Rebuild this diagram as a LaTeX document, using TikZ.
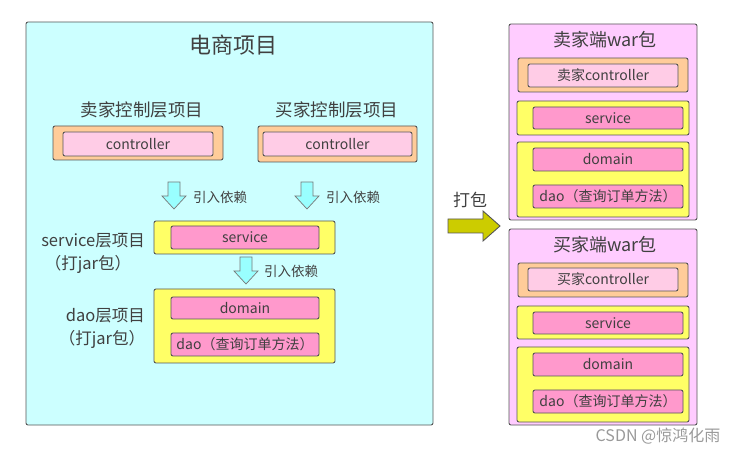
\documentclass[tikz,border=0pt]{standalone}
\usepackage{fontspec}
\setmainfont{Noto Sans CJK SC}
\usepackage{tikz}

\definecolor{bgcyan}{HTML}{CCFFFF}
\definecolor{peach}{HTML}{FFCC99}
\definecolor{lightpink}{HTML}{FFCCE6}
\definecolor{hotpink}{HTML}{FF99CC}
\definecolor{lemon}{HTML}{FFFF66}
\definecolor{lilac}{HTML}{FFCCFF}
\definecolor{olivegreen}{HTML}{CCCC00}
\definecolor{arrcyan}{HTML}{99FFFF}
\definecolor{framegray}{HTML}{555555}
\definecolor{txtgray}{HTML}{404040}

\newcommand{\fsz}[1]{\fontsize{#1pt}{#1pt}\selectfont}

\tikzset{
	blk/.style={draw=framegray,line width=0.9pt,rounded corners=2pt,inner sep=0pt,text=txtgray},
	outerbox/.style={blk,minimum width=172pt},
	innerbox/.style={blk,minimum width=150pt,font=\fsz{14}},
	lbl/.style={text=txtgray,inner sep=0pt},
	downarr/.pic={
		\draw[draw=framegray!80,fill=arrcyan,line width=0.7pt]
			(-6,0) -- (6,0) -- (6,14) -- (12,14) -- (0,27) -- (-12,14) -- (-6,14) -- cycle;
	}
}

\begin{document}
\begin{tikzpicture}[x=1pt,y=-1pt]
		\useasboundingbox (0,0) rectangle (742,454);

		%------------------------------------------------------
		\node[blk,fill=bgcyan,minimum width=407pt,minimum height=403pt] (shop) at (229.5,223.5) {};
		\node[lbl,font=\fsz{22}] (shoptitle) at (233,45) {电商项目};
		%------------------------------------------------------


		%------------------------------------------------------
		\node[lbl,font=\fsz{17.5}] (sellerlbl) at (142,110) {卖家控制层项目};
		\node[blk,fill=peach,minimum width=170pt,minimum height=34pt] (sellerctl) at (138,143) {};
		\node[innerbox,fill=lightpink,minimum height=24pt] (sellerin) at (138,144) {controller};

		\node[lbl,font=\fsz{17.5}] (buyerlbl) at (337,110) {买家控制层项目};
		\node[blk,fill=peach,minimum width=159pt,minimum height=36pt] (buyerctl) at (337.5,144) {};
		\node[innerbox,fill=lightpink,minimum width=149pt,minimum height=24pt] (buyerin) at (337.5,144) {controller};
		%------------------------------------------------------


		%------------------------------------------------------
		\coordinate (dep1) at (174,182);
		\coordinate (dep2) at (307,182);
		\pic at (dep1) {downarr};
		\pic at (dep2) {downarr};
		\node[lbl,font=\fsz{13.5},anchor=west] (dep1lbl) at (193,197) {引入依赖};
		\node[lbl,font=\fsz{13.5},anchor=west] (dep2lbl) at (326,197) {引入依赖};
		%------------------------------------------------------


		%------------------------------------------------------
		\node[blk,fill=lemon,minimum width=181pt,minimum height=33pt] (svc) at (244.5,237.5) {};
		\node[innerbox,fill=hotpink,minimum width=148pt,minimum height=23pt] (svcin) at (245,237.5) {service};
		\node[lbl,font=\fsz{16.5},anchor=east] (svclbl) at (145,241) {service层项目};
		\node[lbl,font=\fsz{16.5}] (svcjar) at (88,264) {（打jar包）};

		\coordinate (dep3) at (246,257);
		\pic at (dep3) {downarr};
		\node[lbl,font=\fsz{13.5},anchor=west] (dep3lbl) at (264,271) {引入依赖};
		%------------------------------------------------------


		%------------------------------------------------------
		\node[blk,fill=lemon,minimum width=181pt,minimum height=74pt] (dao) at (244.5,326) {};
		\node[innerbox,fill=hotpink,minimum width=148pt,minimum height=22pt] (domainin) at (245,308) {domain};
		\node[innerbox,fill=hotpink,minimum width=148pt,minimum height=23pt] (daoin) at (245,344.5) {dao（查询订单方法）};
		\node[lbl,font=\fsz{16.5},anchor=east] (daolbl) at (145,316) {dao层项目};
		\node[lbl,font=\fsz{16.5}] (daojar) at (102,339) {（打jar包）};
		%------------------------------------------------------


		%------------------------------------------------------
		\node[lbl,font=\fsz{17}] (packlbl) at (470,200) {打包};
		\draw[draw=framegray,fill=olivegreen,line width=0.9pt]
			(448,219) -- (483,219) -- (483,211) -- (500,226) -- (483,241) -- (483,233) -- (448,233) -- cycle;
		%------------------------------------------------------


		%------------------------------------------------------
		\node[blk,fill=lilac,minimum width=188pt,minimum height=196pt] (sellerwar) at (603,122) {};
		\node[lbl,font=\fsz{18}] (sellerwarlbl) at (605,40) {卖家端war包};
		\node[blk,fill=peach,minimum width=170pt,minimum height=34pt] (swctl) at (603,75) {};
		\node[innerbox,fill=lightpink,minimum height=23pt] (swctlin) at (603,75.5) {卖家controller};
		\node[outerbox,fill=lemon,minimum height=34pt] (swsvc) at (603,118) {};
		\node[innerbox,fill=hotpink,minimum height=22pt] (swsvcin) at (608,118) {service};
		\node[outerbox,fill=lemon,minimum height=75pt] (swdao) at (603,179.5) {};
		\node[innerbox,fill=hotpink,minimum height=23pt] (swdomain) at (608,159.5) {domain};
		\node[innerbox,fill=hotpink,minimum height=23pt] (swdaoin) at (608,196.5) {dao（查询订单方法）};
		%------------------------------------------------------


		%------------------------------------------------------
		\node[blk,fill=lilac,minimum width=188pt,minimum height=196pt] (buyerwar) at (603,327) {};
		\node[lbl,font=\fsz{18}] (buyerwarlbl) at (605,245) {买家端war包};
		\node[blk,fill=peach,minimum width=170pt,minimum height=34pt] (bwctl) at (603,280) {};
		\node[innerbox,fill=lightpink,minimum height=23pt] (bwctlin) at (603,279.5) {买家controller};
		\node[outerbox,fill=lemon,minimum height=33pt] (bwsvc) at (603,322.5) {};
		\node[innerbox,fill=hotpink,minimum height=22pt] (bwsvcin) at (608,323) {service};
		\node[outerbox,fill=lemon,minimum height=75pt] (bwdao) at (603,384.5) {};
		\node[innerbox,fill=hotpink,minimum height=23pt] (bwdomain) at (608,364.5) {domain};
		\node[innerbox,fill=hotpink,minimum height=23pt] (bwdaoin) at (608,401.5) {dao（查询订单方法）};
		%------------------------------------------------------

		\node[inner sep=0pt,text=black!40,font=\fsz{16}] (mark) at (658,436) {CSDN @惊鸿化雨};

	\end{tikzpicture}
\end{document}
